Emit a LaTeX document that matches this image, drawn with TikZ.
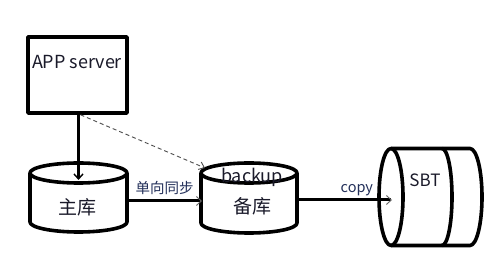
\documentclass[tikz,border=0pt]{standalone}
\usepackage{fontspec}
\setmainfont{Noto Sans CJK SC}
\usetikzlibrary{arrows.meta}
\definecolor{lblcol}{HTML}{23305A}
\definecolor{txtcol}{HTML}{1A1A2A}
\tikzset{
  shp/.style={line width=3.6pt, line join=round},
  main/.style={line width=3.2pt, -{Straight Barb[length=5pt,width=9pt,line width=1.4pt]}},
  thinarr/.style={line width=3pt, -{Straight Barb[length=5pt,width=9pt,line width=0.9pt,color=black!60]}},
  dsh/.style={line width=0.9pt, dashed, dash pattern=on 4pt off 3pt, color=black!70, -{Straight Barb[length=5pt,width=8pt]}},
  big/.style={font=\fontsize{19}{21}\selectfont, text=txtcol, inner sep=0pt},
  lbl/.style={font=\fontsize{14.5}{16}\selectfont, text=lblcol, inner sep=0pt},
}
\begin{document}
\begin{tikzpicture}[x=1pt,y=1pt]
\useasboundingbox[fill=white] (0,0) rectangle (500,270);
% APP server box
\node[shp, draw, minimum width=99pt, minimum height=76pt, inner sep=0pt] (app) at (77.5,195) {};
\node[big, font=\fontsize{18}{20}\selectfont] (apptxt) at (77,208) {APP server};
% main db cylinder
\draw[shp] (78.5,97) ellipse (48.5 and 10);
\draw[shp] (30,97) -- (30,48) arc (180:360:48.5 and 10) -- (127,97);
\coordinate (zhutop) at (78.5,90);
\coordinate (zhuright) at (127,69);
\node[big] (zhu) at (77,63) {主库};
% backup cylinder
\draw[shp] (249,97) ellipse (48 and 10);
\draw[shp] (201,97) -- (201,47) arc (180:360:48 and 10) -- (297,97);
\coordinate (beitop) at (205,102);
\coordinate (beileft) at (202,69);
\coordinate (beiright) at (297,70);
\node[big, font=\fontsize{18}{20}\selectfont] (backup) at (252,93) {backup};
\node[big] (bei) at (252,64) {备库};
% SBT cylinder
\draw[shp] (391,73) ellipse (12 and 48.5);
\draw[shp] (391,121.5) -- (470,121.5) arc (90:-90:12 and 48.5) -- (391,24.5);
\draw[shp] (442,121.5) arc (90:-90:10 and 48.5);
\coordinate (sbtleft) at (392,70);
\node[big, font=\fontsize{17}{19}\selectfont] (sbt) at (425,90) {SBT};
% connectors
\draw[main] (app.south -| zhutop) -- (zhutop);
\draw[dsh] ([xshift=3pt]app.south) -- (beitop);
\draw[thinarr] (zhuright) -- node[lbl, above=5pt] {单向同步} (beileft);
\draw[thinarr] (beiright) -- node[lbl, above=3pt, pos=0.63] {copy} (sbtleft);
\end{tikzpicture}
\end{document}
